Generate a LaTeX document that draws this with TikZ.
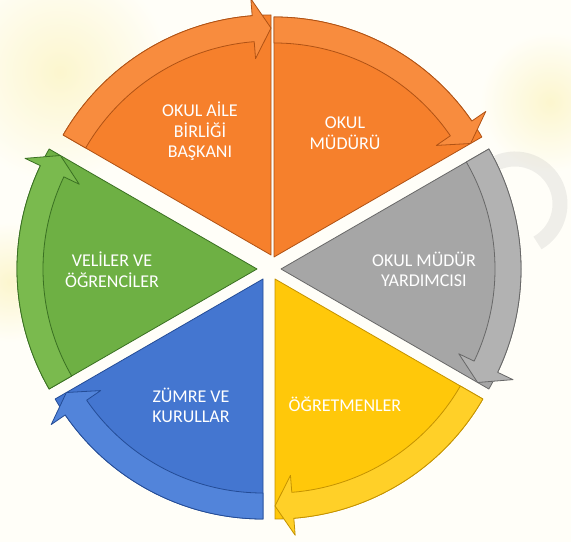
\documentclass[tikz,border=0pt]{standalone}
\usepackage{fontspec}
\setmainfont{Carlito}
\usepackage{tikz}

\definecolor{orangeFill}{RGB}{246,128,44}
\definecolor{orangeBand}{RGB}{248,140,62}
\definecolor{orangeLine}{RGB}{176,82,20}
\definecolor{grayFill}{RGB}{166,166,166}
\definecolor{grayBand}{RGB}{178,178,178}
\definecolor{grayLine}{RGB}{104,104,104}
\definecolor{yellowFill}{RGB}{255,200,10}
\definecolor{yellowBand}{RGB}{255,208,40}
\definecolor{yellowLine}{RGB}{196,146,0}
\definecolor{blueFill}{RGB}{68,118,208}
\definecolor{blueBand}{RGB}{82,132,218}
\definecolor{blueLine}{RGB}{36,76,150}
\definecolor{greenFill}{RGB}{110,176,68}
\definecolor{greenBand}{RGB}{122,186,78}
\definecolor{greenLine}{RGB}{58,112,34}
\definecolor{paper}{RGB}{255,254,248}
\definecolor{haze}{RGB}{252,246,206}

\begin{document}
\begin{tikzpicture}[x=1bp, y=1bp,
        sector/.style={line width=0.8bp, line join=round},
        band/.style={line width=0.8bp, line join=round},
        every node/.append style={inner sep=0pt}]
      \tikzstyle{word} = [font=\fontsize{18bp}{20.5bp}\selectfont,color=white,align=center]
      % background
      \fill[paper] (0,0) rectangle (571,542);
      \useasboundingbox (0,0) rectangle (571,542);
      \shade[inner color=haze, outer color=paper] (60,470) circle (110);
      \shade[inner color=haze, outer color=paper] (550,440) circle (70);
      \shade[inner color=haze, outer color=paper] (10,260) circle (60);
      \draw[gray, opacity=0.12, line width=15bp] (515,338) ++(114:45) arc (114:-60:45);
      % top left
      \begin{scope}[shift={(271,287)}, rotate=90]
        \filldraw[sector, fill=orangeFill, draw=orangeLine] (0,0) -- (0:240) arc (0:60:240) -- cycle;
        \filldraw[band, fill=orangeBand, draw=orangeLine] (60:240) arc (60:4.5:240) -- (4.5:257) -- (0:227) -- (4.5:197) -- (4.5:214) arc (4.5:60:214) -- cycle;
      \end{scope}
      % top right
      \begin{scope}[shift={(274,285)}, rotate=30]
        \filldraw[sector, fill=orangeFill, draw=orangeLine] (0,0) -- (0:240) arc (0:60:240) -- cycle;
        \filldraw[band, fill=orangeBand, draw=orangeLine] (60:240) arc (60:4.5:240) -- (4.5:257) -- (0:227) -- (4.5:197) -- (4.5:214) arc (4.5:60:214) -- cycle;
      \end{scope}
      % right
      \begin{scope}[shift={(281,273)}, rotate=-30]
        \filldraw[sector, fill=grayFill, draw=grayLine] (0,0) -- (0:240) arc (0:60:240) -- cycle;
        \filldraw[band, fill=grayBand, draw=grayLine] (60:240) arc (60:4.5:240) -- (4.5:257) -- (0:227) -- (4.5:197) -- (4.5:214) arc (4.5:60:214) -- cycle;
      \end{scope}
      % bottom right
      \begin{scope}[shift={(275,263)}, rotate=-90]
        \filldraw[sector, fill=yellowFill, draw=yellowLine] (0,0) -- (0:240) arc (0:60:240) -- cycle;
        \filldraw[band, fill=yellowBand, draw=yellowLine] (60:240) arc (60:4.5:240) -- (4.5:257) -- (0:227) -- (4.5:197) -- (4.5:214) arc (4.5:60:214) -- cycle;
      \end{scope}
      % bottom left
      \begin{scope}[shift={(263,263)}, rotate=-150]
        \filldraw[sector, fill=blueFill, draw=blueLine] (0,0) -- (0:240) arc (0:60:240) -- cycle;
        \filldraw[band, fill=blueBand, draw=blueLine] (60:240) arc (60:4.5:240) -- (4.5:257) -- (0:227) -- (4.5:197) -- (4.5:214) arc (4.5:60:214) -- cycle;
      \end{scope}
      % left
      \begin{scope}[shift={(257,273)}, rotate=150]
        \filldraw[sector, fill=greenFill, draw=greenLine] (0,0) -- (0:240) arc (0:60:240) -- cycle;
        \filldraw[band, fill=greenBand, draw=greenLine] (60:240) arc (60:4.5:240) -- (4.5:257) -- (0:227) -- (4.5:197) -- (4.5:214) arc (4.5:60:214) -- cycle;
      \end{scope}
      % labels
      \node (okulAile) [word] at (200,410.6) {OKUL AİLE\\BİRLİĞİ\\BAŞKANI};
      \node (okulMudur) [word] at (345,408.6) {OKUL\\MÜDÜRÜ};
      \node (mudurYardimcisi) [word] at (424,272.5) {OKUL MÜDÜR\\YARDIMCISI};
      \node (ogretmenler) [word] at (345,137.6) {ÖĞRETMENLER};
      \node (zumreKurullar) [word] at (191,136.5) {ZÜMRE VE\\KURULLAR};
      \node (veliOgrenci) [word] at (112,272.5) {VELİLER VE\\ÖĞRENCİLER};
\end{tikzpicture}
\end{document}
